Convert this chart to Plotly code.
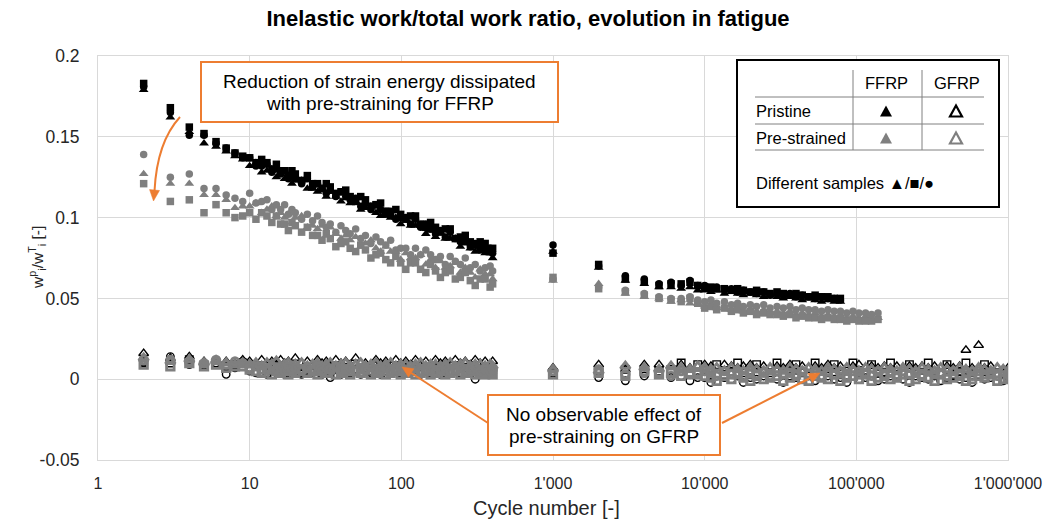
import math
import plotly.graph_objects as go

# ---------------- data ----------------
CYCLES_EARLY = [2, 3, 4, 5, 6, 7, 8, 9, 10, 11,
                12, 13, 14, 15, 16, 17, 18, 19, 20, 22,
                24, 26, 28, 30, 32, 34, 37, 40, 43, 46,
                50, 54, 58, 63, 68, 73, 79, 85, 92, 99,
                107, 115, 124, 134, 145, 156, 168, 181, 195, 210,
                227, 245, 264, 285, 307, 331, 357, 385, 400]

CYCLES_LATE = [1000, 2000, 3000, 4000, 5000, 6000, 7000, 8000, 9000, 10000,
               11000, 12000, 13500, 15000, 16500, 18000, 20000, 22000, 24500, 27000,
               30000, 33000, 36500, 40000, 44000, 48500, 53500, 59000, 65000, 71500,
               78500, 86500, 95000, 104000, 115000, 126000, 139000, 153000, 168000, 185000,
               203000, 224000, 246000, 271000, 298000, 328000, 360000, 396000, 436000, 480000,
               528000, 580000, 640000, 700000, 770000, 850000, 930000, 1000000]

# FFRP pristine (black, filled)
ffrp_pri_tri_early = [.179, .162, .153, .146, .144, .141, .138, .136, .132, .134,
                      .128, .129, .130, .125, .127, .124, .126, .121, .123, .123,
                      .118, .118, .116, .118, .113, .116, .113, .110, .112, .109,
                      .110, .105, .106, .107, .103, .101, .103, .100, .100, .096,
                      .099, .095, .095, .095, .090, .092, .088, .091, .087, .087,
                      .087, .082, .084, .081, .079, .082, .078, .078, .075]
ffrp_pri_sq_early = [.183, .168, .156, .152, .147, .143, .140, .138, .137, .134,
                     .136, .134, .130, .133, .129, .129, .126, .129, .127, .123,
                     .126, .121, .121, .118, .121, .119, .115, .116, .117, .113,
                     .110, .113, .111, .107, .108, .109, .104, .102, .105, .102,
                     .099, .101, .101, .096, .094, .097, .094, .091, .093, .093,
                     .087, .088, .089, .085, .083, .085, .084, .079, .081]
ffrp_pri_cir_early = [.181, .165, .151, .151, .146, .143, .140, .137, .137, .132,
                      .132, .133, .128, .130, .127, .129, .124, .126, .124, .121,
                      .124, .119, .121, .118, .115, .117, .113, .116, .113, .111,
                      .112, .107, .109, .105, .108, .105, .102, .104, .099, .100,
                      .100, .096, .099, .094, .096, .093, .090, .092, .088, .091,
                      .087, .085, .087, .082, .084, .080, .080, .081, .078]
ffrp_pri_tri_late = [.079, .069, .061, .059, .057, .057, .056, .057, .055, .055,
                     .054, .055, .053, .054, .053, .052, .053, .052, .051, .052,
                     .051, .050, .051, .050, .049, .050, .049, .048, .049, .048,
                     .048]
ffrp_pri_sq_late = [.078, .071, .062, .060, .058, .059, .059, .060, .058, .057,
                    .057, .056, .056, .055, .056, .055, .054, .055, .054, .053,
                    .054, .053, .052, .053, .052, .051, .052, .051, .051, .050,
                    .050]
ffrp_pri_cir_late = [.083, .070, .064, .062, .059, .060, .058, .061, .058, .058,
                     .056, .057, .055, .056, .054, .055, .054, .053, .054, .052,
                     .053, .052, .053, .051, .052, .051, .050, .051, .050, .050,
                     .049]

# FFRP pre-strained (grey, filled)
ffrp_pre_tri_early = [.127, .121, .121, .114, .114, .111, .106, .107, .107, .109,
                      .103, .105, .107, .101, .103, .100, .102, .097, .100, .101,
                      .094, .095, .093, .095, .089, .094, .090, .087, .089, .086,
                      .088, .082, .084, .086, .081, .079, .082, .079, .079, .074,
                      .078, .075, .075, .077, .071, .074, .069, .073, .069, .070,
                      .072, .066, .069, .066, .063, .068, .065, .065, .062]
ffrp_pre_sq_early = [.121, .110, .111, .103, .108, .103, .100, .101, .103, .099,
                     .103, .101, .097, .101, .096, .096, .092, .097, .095, .091,
                     .094, .089, .089, .086, .090, .087, .082, .084, .085, .081,
                     .079, .083, .080, .075, .077, .078, .074, .072, .076, .072,
                     .068, .072, .072, .068, .066, .071, .067, .063, .066, .067,
                     .062, .063, .066, .061, .058, .062, .062, .057, .059]
ffrp_pre_cir_early = [.139, .125, .127, .118, .118, .114, .112, .110, .115, .109,
                      .110, .111, .105, .108, .105, .108, .102, .105, .103, .099,
                      .102, .098, .101, .097, .094, .096, .091, .095, .092, .090,
                      .093, .087, .089, .084, .088, .085, .083, .086, .080, .081,
                      .081, .077, .081, .077, .080, .077, .074, .076, .071, .076,
                      .073, .071, .075, .069, .071, .067, .069, .070, .067]
ffrp_pre_tri_late = [.061, .059, .053, .051, .050, .048, .049, .047, .047, .045,
                     .046, .044, .045, .043, .044, .042, .043, .042, .043, .041,
                     .042, .041, .042, .040, .041, .040, .041, .039, .040, .039,
                     .040, .038, .039, .038, .039, .038, .038]
ffrp_pre_sq_late = [.063, .056, .054, .052, .050, .049, .048, .050, .047, .044,
                    .045, .043, .044, .042, .043, .041, .042, .040, .041, .040,
                    .040, .039, .040, .038, .039, .038, .038, .037, .038, .037,
                    .037, .036, .037, .036, .036, .036, .037]
ffrp_pre_cir_late = [.062, .057, .055, .053, .051, .050, .050, .051, .049, .048,
                     .049, .047, .048, .046, .047, .045, .046, .045, .046, .044,
                     .045, .044, .045, .043, .044, .043, .043, .042, .043, .042,
                     .042, .041, .042, .041, .041, .040, .041]

# GFRP pristine (black, open)
gfrp_pri_tri_early = [.016, .013, .014, .011, .012, .011, .010, .012, .011, .009,
                      .012, .010, .011, .009, .012, .010, .011, .009, .013, .010,
                      .011, .009, .012, .010, .011, .009, .012, .010, .011, .009,
                      .013, .010, .010, .009, .012, .010, .011, .009, .012, .010,
                      .011, .009, .012, .010, .011, .009, .012, .010, .011, .009,
                      .012, .010, .011, .009, .012, .010, .011, .009, .011]
gfrp_pri_sq_early = [.011, .010, .012, .009, .010, .008, .009, .010, .007, .005,
                     .006, .004, .007, .005, .006, .004, .007, .005, .006, .004,
                     .006, .005, .007, .004, .006, .005, .007, .004, .006, .005,
                     .006, .004, .007, .005, .006, .004, .007, .005, .006, .004,
                     .006, .005, .007, .004, .006, .005, .007, .004, .006, .005,
                     .006, .004, .007, .005, .006, .004, .007, .005, .006]
gfrp_pri_cir_early = [.010, .014, .009, .008, .010, .003, .007, .011, .005, .004,
                      .006, .003, .005, .004, .006, .003, .005, .004, .006, .003,
                      .005, .004, .006, .003, .005, .001, .006, .003, .005, .004,
                      .006, .003, .005, .004, .006, .003, .005, .004, .006, .003,
                      .005, .004, .006, .003, .005, .004, .006, .003, .005, .004,
                      .006, .003, .005, .004, .000, .003, .005, .004, .006]
gfrp_pri_tri_late = [.007, .009, .006, .009, .009, .008, .009, .007, .008, .009,
                     .008, .007, .009, .008, .007, .008, .009, .007, .008, .007,
                     .008, .007, .009, .007, .008, .007, .008, .007, .009, .007,
                     .008, .007, .008, .009, .007, .008, .007, .008, .007, .008,
                     .007, .008, .007, .008, .007, .008, .007, .008, .007, .008,
                     .018, .007, .021, .007, .008, .007, .006, .007]
gfrp_pri_sq_late = [.004, .004, .006, .004, .005, .006, .010, .004, .009, .005,
                    .004, .009, .003, .005, .010, .004, .003, .009, .005, .004,
                    .010, .003, .005, .009, .004, .003, .010, .005, .004, .009,
                    .003, .005, .010, .004, .003, .009, .005, .004, .010, .003,
                    .005, .009, .004, .003, .010, .005, .004, .009, .003, .005,
                    .010, .004, .003, .009, .005, .004, .003, .005]
gfrp_pri_cir_late = [.003, .001, -.001, .002, .003, .001, .002, -.001, .001, .001,
                     -.002, .002, .001, .000, .002, -.002, .001, .000, .002, .001,
                     .000, -.002, .002, .001, .000, .002, -.001, .001, .002, .000,
                     .001, -.002, .002, .000, .001, .002, -.001, .000, .002, .001,
                     .000, -.002, .002, .001, .000, .002, -.001, .001, .002, .000,
                     .001, -.002, .002, .000, .001, .002, -.001, .001]

# GFRP pre-strained (grey, open)
gfrp_pre_tri_early = [.013, .011, .012, .010, .011, .010, .009, .010, .009, .010,
                      .008, .010, .009, .011, .008, .009, .010, .008, .009, .010,
                      .008, .009, .010, .008, .009, .010, .008, .009, .010, .008,
                      .009, .010, .008, .009, .010, .008, .009, .010, .008, .009,
                      .009, .008, .009, .010, .008, .009, .009, .008, .009, .010,
                      .008, .009, .010, .008, .009, .009, .008, .009, .008]
gfrp_pre_sq_early = [.009, .008, .010, .008, .009, .007, .008, .008, .006, .005,
                     .004, .006, .003, .005, .004, .006, .003, .005, .004, .006,
                     .004, .005, .003, .005, .004, .006, .003, .004, .005, .003,
                     .005, .004, .006, .003, .004, .005, .003, .004, .005, .003,
                     .004, .005, .003, .004, .005, .003, .004, .005, .003, .004,
                     .005, .003, .004, .005, .003, .004, .003, .004, .003]
gfrp_pre_cir_early = [.012, .012, .011, .010, .012, .009, .011, .010, .007, .008,
                      .006, .007, .008, .006, .007, .005, .008, .006, .007, .005,
                      .007, .006, .008, .005, .007, .006, .008, .005, .006, .007,
                      .005, .007, .006, .008, .005, .006, .007, .005, .006, .007,
                      .005, .006, .007, .005, .006, .007, .005, .006, .007, .005,
                      .006, .007, .005, .006, .007, .005, .006, .005, .006]
gfrp_pre_tri_late = [.006, .005, .008, .007, .006, .008, .007, .006, .008, .007,
                     .006, .007, .005, .007, .006, .005, .007, .006, .005, .007,
                     .006, .005, .007, .006, .005, .007, .006, .005, .007, .006,
                     .005, .007, .006, .005, .007, .006, .005, .007, .006, .005,
                     .007, .006, .005, .007, .006, .005, .007, .006, .005, .007,
                     .006, .005, .007, .006, .005, .007, .006, .005]
gfrp_pre_sq_late = [.003, .004, .002, .005, .003, .004, .002, .004, .003, .002,
                    .001, -.001, .002, .000, .003, .001, -.001, .002, .000, .001,
                    .002, -.001, .001, .003, .000, -.001, .002, .001, .000, .003,
                    -.001, .001, .002, .000, .003, -.001, .001, .002, .000, .001,
                    .003, -.001, .000, .002, .001, -.001, .003, .000, .001, .002,
                    -.001, .000, .002, .001, .003, -.001, .000, .001]
gfrp_pre_cir_late = [.005, .006, .003, .004, .004, .002, .005, .003, .004, .005,
                     .004, .002, .005, .003, .004, .002, .005, .003, .004, .002,
                     .005, .003, .004, .002, .005, .003, .004, .002, .005, .003,
                     .004, .002, .005, .003, .004, .002, .005, .003, .004, .002,
                     .005, .003, .004, .002, .005, .003, .004, .002, .005, .003,
                     .004, .002, .005, .003, .004, .002, .005, .003]

X_TICKS = [1, 10, 100, 1000, 10000, 100000, 1000000]
X_TICKTEXT = ["1", "10", "100", "1'000", "10'000", "100'000", "1'000'000"]
Y_TICKS = [-0.05, 0, 0.05, 0.1, 0.15, 0.2]
Y_TICKTEXT = ["-0.05", "0", "0.05", "0.1", "0.15", "0.2"]

# ---------------- styling ----------------
FONT = "Liberation Sans, Arial, sans-serif"
BLACK = "#000000"
GREY = "#7f7f7f"
ORANGE = "#ED7D31"
GRID = "#d9d9d9"
TXT = "#262626"

W, H = 1056, 521
# plot area in pixels
L, R, T, B = 98, 1008, 56, 460


def px(x):
    return (x - L) / (R - L)


def py(y):
    return (B - y) / (B - T)


fig = go.Figure()


def add(cyc, vals, symbol, color, size, open_=False, lw=1.3):
    if open_:
        marker = dict(symbol=symbol + "-open", size=size, color=color,
                      line=dict(color=color, width=lw))
    else:
        marker = dict(symbol=symbol, size=size, color=color, line=dict(width=0))
    fig.add_trace(go.Scatter(x=cyc[:len(vals)], y=vals, mode="markers",
                             marker=marker, showlegend=False, hoverinfo="skip"))


groups = [
    (gfrp_pri_tri_early, gfrp_pri_sq_early, gfrp_pri_cir_early,
     gfrp_pri_tri_late, gfrp_pri_sq_late, gfrp_pri_cir_late, BLACK, True, 1.4),
    (gfrp_pre_tri_early, gfrp_pre_sq_early, gfrp_pre_cir_early,
     gfrp_pre_tri_late, gfrp_pre_sq_late, gfrp_pre_cir_late, GREY, True, 2.8),
    (ffrp_pre_tri_early, ffrp_pre_sq_early, ffrp_pre_cir_early,
     ffrp_pre_tri_late, ffrp_pre_sq_late, ffrp_pre_cir_late, GREY, False, 0),
    (ffrp_pri_tri_early, ffrp_pri_sq_early, ffrp_pri_cir_early,
     ffrp_pri_tri_late, ffrp_pri_sq_late, ffrp_pri_cir_late, BLACK, False, 0),
]
for te, se, ce, tl, sl, cl, col, op, lw in groups:
    for vals, cyc in ((te, CYCLES_EARLY), (tl, CYCLES_LATE)):
        add(cyc, vals, "triangle-up", col, 8.5, op, lw)
    for vals, cyc in ((se, CYCLES_EARLY), (sl, CYCLES_LATE)):
        add(cyc, vals, "square", col, 7.5, op, lw)
    for vals, cyc in ((ce, CYCLES_EARLY), (cl, CYCLES_LATE)):
        add(cyc, vals, "circle", col, 7.5, op, lw)

shapes = []
annotations = []


def txt(x, y, s, size=16.5, xanchor="center", color=BLACK, **kw):
    annotations.append(dict(x=px(x), y=py(y), xref="paper", yref="paper", text=s,
                            showarrow=False, xanchor=xanchor, yanchor="middle",
                            font=dict(family=FONT, size=size, color=color), **kw))


# ---- legend table box ----
shapes.append(dict(type="rect", xref="paper", yref="paper",
                   x0=px(737), x1=px(999), y0=py(207), y1=py(60),
                   line=dict(color=BLACK, width=2), fillcolor="white", layer="above"))
for yy in (97, 124, 150):
    shapes.append(dict(type="line", xref="paper", yref="paper",
                       x0=px(755), x1=px(984), y0=py(yy), y1=py(yy),
                       line=dict(color="#808080", width=1), layer="above"))
for xx in (853, 922):
    shapes.append(dict(type="line", xref="paper", yref="paper",
                       x0=px(xx), x1=px(xx), y0=py(70), y1=py(150),
                       line=dict(color="#808080", width=1), layer="above"))


def tri_path(cx, cy, hw=6, hh=5.5):
    return (f"M {px(cx - hw)},{py(cy + hh)} L {px(cx + hw)},{py(cy + hh)} "
            f"L {px(cx)},{py(cy - hh)} Z")


for cx, cy, col, filled in ((886, 111, BLACK, True), (956, 111, BLACK, False),
                             (886, 138, GREY, True), (956, 138, GREY, False)):
    shapes.append(dict(type="path", xref="paper", yref="paper",
                       path=tri_path(cx, cy),
                       fillcolor=col if filled else "rgba(0,0,0,0)",
                       line=dict(color=col, width=0 if filled else 2.2),
                       layer="above"))

txt(886, 83, "FFRP")
txt(957, 83, "GFRP")
txt(754, 111, "Pristine", xanchor="left")
txt(754, 138, "Pre-strained", xanchor="left")
txt(754, 183, "Different samples ▲/■/●", xanchor="left")

# ---- orange annotation boxes ----
for x0, y0, x1, y1 in ((201, 62, 558, 122), (488, 395, 720, 455)):
    shapes.append(dict(type="rect", xref="paper", yref="paper",
                       x0=px(x0), x1=px(x1), y0=py(y1), y1=py(y0),
                       line=dict(color=ORANGE, width=2), fillcolor="white", layer="above"))
txt(379.5, 81, "Reduction of strain energy dissipated", size=19)
txt(379.5, 103, "with pre-straining for FFRP", size=19)
txt(604, 414, "No observable effect of", size=19)
txt(604, 436, "pre-straining on GFRP", size=19)


def arrow_head(tail, tip, length=11, half=5):
    dx, dy = tip[0] - tail[0], tip[1] - tail[1]
    n = math.hypot(dx, dy)
    ux, uy = dx / n, dy / n
    bx, by = tip[0] - length * ux, tip[1] - length * uy
    nx, ny = -uy, ux
    p1 = (bx + half * nx, by + half * ny)
    p2 = (bx - half * nx, by - half * ny)
    path = (f"M {px(tip[0])},{py(tip[1])} L {px(p1[0])},{py(p1[1])} "
            f"L {px(p2[0])},{py(p2[1])} Z")
    shapes.append(dict(type="path", xref="paper", yref="paper", path=path,
                       fillcolor=ORANGE, line=dict(color=ORANGE, width=0.5),
                       layer="above"))
    return bx, by


for tail, tip in (((488, 423), (402, 367)), ((722, 423), (820, 373))):
    bx, by = arrow_head(tail, tip)
    shapes.append(dict(type="line", xref="paper", yref="paper",
                       x0=px(tail[0]), y0=py(tail[1]), x1=px(bx), y1=py(by),
                       line=dict(color=ORANGE, width=2), layer="above"))

# curved arrow from the FFRP box
shapes.append(dict(type="path", xref="paper", yref="paper",
                   path=f"M {px(180)},{py(117)} Q {px(157)},{py(142)} {px(154.5)},{py(191)}",
                   line=dict(color=ORANGE, width=2), layer="above"))
arrow_head((155, 185), (153.5, 201))

# axis titles
txt(546, 508, "Cycle number [-]", size=20, color=TXT)
annotations.append(dict(x=px(37), y=py(258), xref="paper", yref="paper",
                        text="w<sup>p</sup><sub>i</sub>/w<sup>T</sup><sub>i</sub> [-]",
                        showarrow=False, textangle=-90, xanchor="center", yanchor="middle",
                        font=dict(family=FONT, size=15.5, color=TXT)))

fig.update_layout(
    width=W, height=H,
    margin=dict(l=L, r=W - R, t=T, b=H - B, autoexpand=False),
    paper_bgcolor="white", plot_bgcolor="white",
    font=dict(family=FONT, size=14, color=TXT),
    title=dict(text="<b>Inelastic work/total work ratio, evolution in fatigue</b>",
               x=0.5, xanchor="center", xref="container",
               y=1 - 18 / H, yanchor="middle",
               font=dict(family=FONT, size=22, color=BLACK)),
    shapes=shapes, annotations=annotations, showlegend=False,
)
fig.update_xaxes(type="log", range=[0, 6], tickvals=X_TICKS, ticktext=X_TICKTEXT,
                 showgrid=True, gridcolor=GRID, gridwidth=1,
                 showline=True, linecolor=GRID, linewidth=1, mirror=True,
                 zeroline=False, ticks="", ticklabelstandoff=9,
                 tickfont=dict(family=FONT, size=16, color=TXT))
fig.update_yaxes(range=[-0.05, 0.2], tickvals=Y_TICKS, ticktext=Y_TICKTEXT,
                 showgrid=True, gridcolor=GRID, gridwidth=1,
                 showline=True, linecolor=GRID, linewidth=1, mirror=True,
                 zeroline=False, ticks="", ticklabelstandoff=14,
                 tickfont=dict(family=FONT, size=17.5, color=TXT))

# remove the default 8px page margin so the figure fills the window exactly
fig.write_html("out.html", config={"displayModeBar": False},
               post_script="document.body.style.margin='0';document.body.style.overflow='hidden';")
